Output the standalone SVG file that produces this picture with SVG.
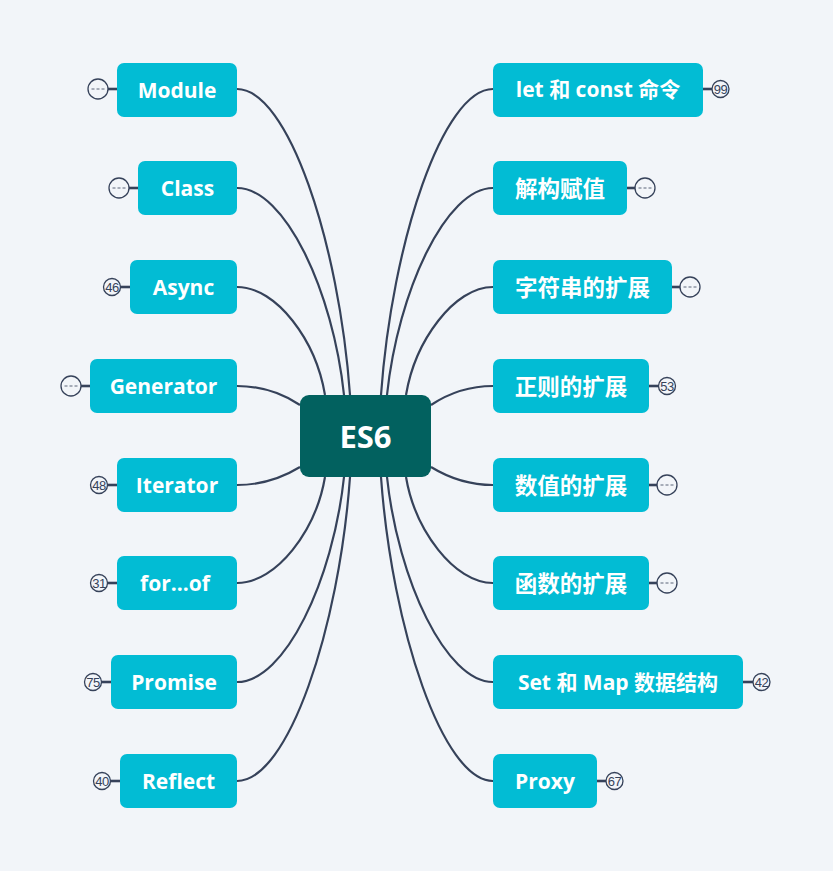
<svg xmlns="http://www.w3.org/2000/svg" width="833" height="871" viewBox="0 0 833 871">
<style>
.bg{fill:#f2f5f9}
.link{fill:none;stroke:#36425a;stroke-width:2.2}
.stub{stroke:#36425a;stroke-width:2.6}
.node{fill:#02bcd4}
.root{fill:#02615f}
.t{font-family:"Open Sans","Noto Sans CJK SC",sans-serif;font-weight:700;font-size:21px;fill:#ffffff;text-anchor:middle;dominant-baseline:central}
.cjk{font-size:22.5px}
.rt{font-family:"Open Sans",sans-serif;font-weight:700;font-size:31px;fill:#ffffff;text-anchor:middle;dominant-baseline:central}
.badge{fill:#f2f5f9;stroke:#36425a;stroke-width:1.3}
.num{font-family:"Liberation Sans",sans-serif;font-size:13px;letter-spacing:-0.6px;fill:#36425a;text-anchor:middle;dominant-baseline:central}
.dots{stroke:#5b6579;stroke-width:1;stroke-dasharray:3 2}
</style>
<rect class="bg" x="0" y="0" width="833" height="871"/>
<g id="connectors">
<path class="link" d="M350,395 C339,242 288,89 237,89"/>
<path class="link" d="M344,395 C333,291 285,188 237,188"/>
<path class="link" d="M325,395 C316,341 277,287 237,287"/>
<path class="link" d="M300,405 C282,393 262,386 237,386"/>
<path class="link" d="M300,467 C282,478 262,485 237,485"/>
<path class="link" d="M325,477 C316,530 277,583 237,583"/>
<path class="link" d="M344,477 C333,580 285,682 237,682"/>
<path class="link" d="M350,477 C339,629 288,781 237,781"/>
<path class="link" d="M381,395 C392,242 443,89 493,89"/>
<path class="link" d="M387,395 C398,291 446,188 493,188"/>
<path class="link" d="M406,395 C415,341 454,287 493,287"/>
<path class="link" d="M431,405 C449,393 469,386 493,386"/>
<path class="link" d="M431,467 C449,478 469,485 493,485"/>
<path class="link" d="M406,477 C415,530 454,583 493,583"/>
<path class="link" d="M387,477 C398,580 446,682 493,682"/>
<path class="link" d="M381,477 C392,629 443,781 493,781"/>
</g>
<g id="root">
<rect class="root" x="300" y="395" width="131" height="82" rx="9"/>
<text class="rt" x="365.5" y="436">ES6</text>
</g>
<g id="n-module">
<rect class="node" x="117" y="63" width="120" height="54" rx="7"/>
<text class="t" x="177" y="90">Module</text>
<line class="stub" x1="108" y1="89" x2="117" y2="89"/>
<circle class="badge" cx="98" cy="89" r="10"/>
<line class="dots" x1="91.5" y1="89" x2="104.5" y2="89"/>
</g>
<g id="n-class">
<rect class="node" x="138" y="161" width="99" height="54" rx="7"/>
<text class="t" x="187.5" y="188">Class</text>
<line class="stub" x1="129" y1="188" x2="138" y2="188"/>
<circle class="badge" cx="119" cy="188" r="10"/>
<line class="dots" x1="112.5" y1="188" x2="125.5" y2="188"/>
</g>
<g id="n-async">
<rect class="node" x="130" y="260" width="107" height="54" rx="7"/>
<text class="t" x="183.5" y="287">Async</text>
<line class="stub" x1="120" y1="287" x2="130" y2="287"/>
<circle class="badge" cx="112" cy="287" r="8.5"/>
<text class="num" x="112" y="287.5">46</text>
</g>
<g id="n-generator">
<rect class="node" x="90" y="359" width="147" height="54" rx="7"/>
<text class="t" x="163.5" y="386">Generator</text>
<line class="stub" x1="81" y1="386" x2="90" y2="386"/>
<circle class="badge" cx="71" cy="386" r="10"/>
<line class="dots" x1="64.5" y1="386" x2="77.5" y2="386"/>
</g>
<g id="n-iterator">
<rect class="node" x="117" y="458" width="120" height="54" rx="7"/>
<text class="t" x="177" y="485">Iterator</text>
<line class="stub" x1="107" y1="485" x2="117" y2="485"/>
<circle class="badge" cx="99" cy="485" r="8.5"/>
<text class="num" x="99" y="485.5">48</text>
</g>
<g id="n-forof">
<rect class="node" x="117" y="556" width="120" height="54" rx="7"/>
<text class="t" x="175" y="583">for...of</text>
<line class="stub" x1="107" y1="583" x2="117" y2="583"/>
<circle class="badge" cx="99" cy="583" r="8.5"/>
<text class="num" x="99" y="583.5">31</text>
</g>
<g id="n-promise">
<rect class="node" x="111" y="655" width="126" height="54" rx="7"/>
<text class="t" x="174" y="682">Promise</text>
<line class="stub" x1="101" y1="682" x2="111" y2="682"/>
<circle class="badge" cx="93" cy="682" r="8.5"/>
<text class="num" x="93" y="682.5">75</text>
</g>
<g id="n-reflect">
<rect class="node" x="120" y="754" width="117" height="54" rx="7"/>
<text class="t" x="178.5" y="781">Reflect</text>
<line class="stub" x1="110" y1="781" x2="120" y2="781"/>
<circle class="badge" cx="102" cy="781" r="8.5"/>
<text class="num" x="102" y="781.5">40</text>
</g>
<g id="n-let">
<rect class="node" x="493" y="63" width="210" height="54" rx="7"/>
<text class="t" x="598" y="89">let 和 const 命令</text>
<line class="stub" x1="703" y1="89" x2="712" y2="89"/>
<circle class="badge" cx="720.5" cy="89" r="8.5"/>
<text class="num" x="720.5" y="89.5">99</text>
</g>
<g id="n-destruct">
<rect class="node" x="493" y="161" width="134" height="54" rx="7"/>
<text class="t cjk" x="560" y="188">解构赋值</text>
<line class="stub" x1="627" y1="188" x2="636" y2="188"/>
<circle class="badge" cx="645" cy="188" r="10"/>
<line class="dots" x1="638.5" y1="188" x2="651.5" y2="188"/>
</g>
<g id="n-string">
<rect class="node" x="493" y="260" width="179" height="54" rx="7"/>
<text class="t cjk" x="582.5" y="287">字符串的扩展</text>
<line class="stub" x1="672" y1="287" x2="681" y2="287"/>
<circle class="badge" cx="690" cy="287" r="10"/>
<line class="dots" x1="683.5" y1="287" x2="696.5" y2="287"/>
</g>
<g id="n-regex">
<rect class="node" x="493" y="359" width="156" height="54" rx="7"/>
<text class="t cjk" x="571" y="386">正则的扩展</text>
<line class="stub" x1="649" y1="386" x2="659" y2="386"/>
<circle class="badge" cx="667" cy="386" r="8.5"/>
<text class="num" x="667" y="386.5">53</text>
</g>
<g id="n-number">
<rect class="node" x="493" y="458" width="156" height="54" rx="7"/>
<text class="t cjk" x="571" y="485">数值的扩展</text>
<line class="stub" x1="649" y1="485" x2="658" y2="485"/>
<circle class="badge" cx="667" cy="485" r="10"/>
<line class="dots" x1="660.5" y1="485" x2="673.5" y2="485"/>
</g>
<g id="n-function">
<rect class="node" x="493" y="556" width="156" height="54" rx="7"/>
<text class="t cjk" x="571" y="583">函数的扩展</text>
<line class="stub" x1="649" y1="583" x2="658" y2="583"/>
<circle class="badge" cx="667" cy="583" r="10"/>
<line class="dots" x1="660.5" y1="583" x2="673.5" y2="583"/>
</g>
<g id="n-setmap">
<rect class="node" x="493" y="655" width="250" height="54" rx="7"/>
<text class="t" x="618" y="682">Set 和 Map 数据结构</text>
<line class="stub" x1="743" y1="682" x2="753" y2="682"/>
<circle class="badge" cx="761.5" cy="682" r="8.5"/>
<text class="num" x="761.5" y="682.5">42</text>
</g>
<g id="n-proxy">
<rect class="node" x="493" y="754" width="104" height="54" rx="7"/>
<text class="t" x="545" y="781">Proxy</text>
<line class="stub" x1="597" y1="781" x2="606" y2="781"/>
<circle class="badge" cx="614.5" cy="781" r="8.5"/>
<text class="num" x="614.5" y="781.5">67</text>
</g>
</svg>
